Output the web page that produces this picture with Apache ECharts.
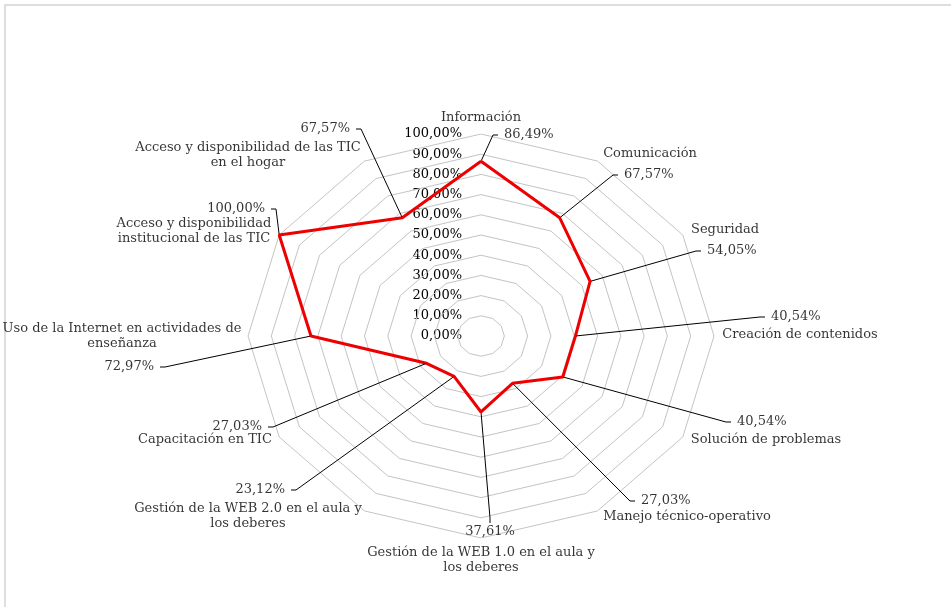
<!DOCTYPE html>
<html>
<head>
<meta charset="utf-8">
<title>Competencias TIC</title>
<script src="https://cdn.jsdelivr.net/npm/echarts@6/dist/echarts.min.js"></script>
<style>
  html, body { margin: 0; padding: 0; background: #fff; }
  #chart { width: 951px; height: 607px; }
</style>
</head>
<body>
<div id="chart"></div>
<script>
// categorias, en el orden de las agujas del reloj desde arriba
const categories = [
  'Información',
  'Comunicación',
  'Seguridad',
  'Creación de contenidos',
  'Solución de problemas',
  'Manejo técnico-operativo',
  'Gestión de la WEB 1.0 en el aula y\nlos deberes',
  'Gestión de la WEB 2.0 en el aula y\nlos deberes',
  'Capacitación en TIC',
  'Uso de la Internet en actividades de\nenseñanza',
  'Acceso y disponibilidad\ninstitucional de las TIC',
  'Acceso y disponibilidad de las TIC\nen el hogar'
];
const values = [86.49, 67.57, 54.05, 40.54, 40.54, 27.03, 37.61, 23.12, 27.03, 72.97, 100, 67.57];
const ringLevels = [10, 20, 30, 40, 50, 60, 70, 80, 90, 100];

// donde van las etiquetas (px): [x, y, align]
const valueLabelPos = [
  [498, 135, 'left'], [618, 175, 'left'], [701, 251, 'left'], [765, 317, 'left'],
  [731, 422, 'left'], [635, 501, 'left'], [490, 532, 'center'], [291, 490, 'right'],
  [268, 427, 'right'], [160, 367, 'right'], [271, 209, 'right'], [356, 129, 'right']
];
const nameLabelPos = [
  [481, 118], [650, 154], [725, 230], [800, 335], [766, 440], [687, 517],
  [481, 560], [248, 516], [205, 440], [122, 336], [194, 231], [248, 155]
];

const FONT = 'DejaVu Serif';
const TEXT = '#000';
const step = 360 / categories.length;

function toXY(v, i) {
  const a = i * step * Math.PI / 180;
  return [v / 100 * Math.sin(a), v / 100 * Math.cos(a)];
}
function pct(v) {
  return v.toFixed(2).replace('.', ',') + '%';
}

const points = values.map((v, i) => toXY(v, i));

const ringSeries = ringLevels.map(lv => ({
  type: 'line',
  silent: true,
  symbol: 'none',
  z: 1,
  lineStyle: { color: '#c4c4c4', width: 1 },
  data: categories.map((c, i) => toXY(lv, i)).concat([toXY(lv, 0)])
}));

const chart = echarts.init(document.getElementById('chart'));
chart.setOption({
  animation: false,
  backgroundColor: '#fff',
  grid: { left: 248, top: 134, width: 466, height: 404 },
  xAxis: { type: 'value', min: -1, max: 1, show: false },
  yAxis: {
    type: 'value',
    min: -1,
    max: 1,
    interval: 0.1,
    position: 'left',
    offset: -233, // eje en el centro del radar
    axisLine: { show: false, onZero: false },
    axisTick: { show: false },
    splitLine: { show: false },
    axisLabel: {
      margin: 19,
      color: TEXT,
      fontFamily: FONT,
      fontSize: 13,
      formatter: v => (v < -1e-9 ? '' : pct(Math.round(v * 1000) / 10))
    }
  },
  graphic: [{
    type: 'rect',
    silent: true,
    shape: { x: 5, y: 5, width: 1000, height: 1000 },
    style: { fill: 'none', stroke: '#d4d4d4', lineWidth: 1.5 }
  }],
  series: ringSeries.concat([
    {
      type: 'line',
      symbol: 'none',
      z: 3,
      lineStyle: { color: '#ee0000', width: 3 },
      data: points.concat([points[0]])
    },
    {
      // valores con linea guia
      type: 'scatter',
      z: 4,
      symbolSize: 2,
      itemStyle: { color: '#ee0000' },
      data: points,
      label: {
        show: true,
        color: TEXT,
        fontFamily: FONT,
        fontSize: 13,
        padding: [2, 6],
        backgroundColor: 'rgba(255,255,255,0)',
        formatter: p => pct(values[p.dataIndex])
      },
      labelLine: {
        show: true,
        length2: 5,
        lineStyle: { color: '#000', width: 1 }
      },
      labelLayout: p => {
        const pos = valueLabelPos[p.dataIndex];
        return { x: pos[0], y: pos[1], align: pos[2], verticalAlign: pos[2] === 'center' ? 'top' : 'middle', dy: pos[2] === 'center' ? -9 : 0 };
      }
    },
    {
      // nombres de las categorias
      type: 'scatter',
      z: 4,
      symbolSize: 1,
      silent: true,
      itemStyle: { color: 'rgba(0,0,0,0)' },
      data: points,
      label: {
        show: true,
        color: TEXT,
        fontFamily: FONT,
        fontSize: 13,
        lineHeight: 14.5,
        formatter: p => categories[p.dataIndex]
      },
      labelLayout: p => {
        const pos = nameLabelPos[p.dataIndex];
        return { x: pos[0], y: pos[1], align: 'center', verticalAlign: 'middle' };
      }
    }
  ])
});
</script>
</body>
</html>
